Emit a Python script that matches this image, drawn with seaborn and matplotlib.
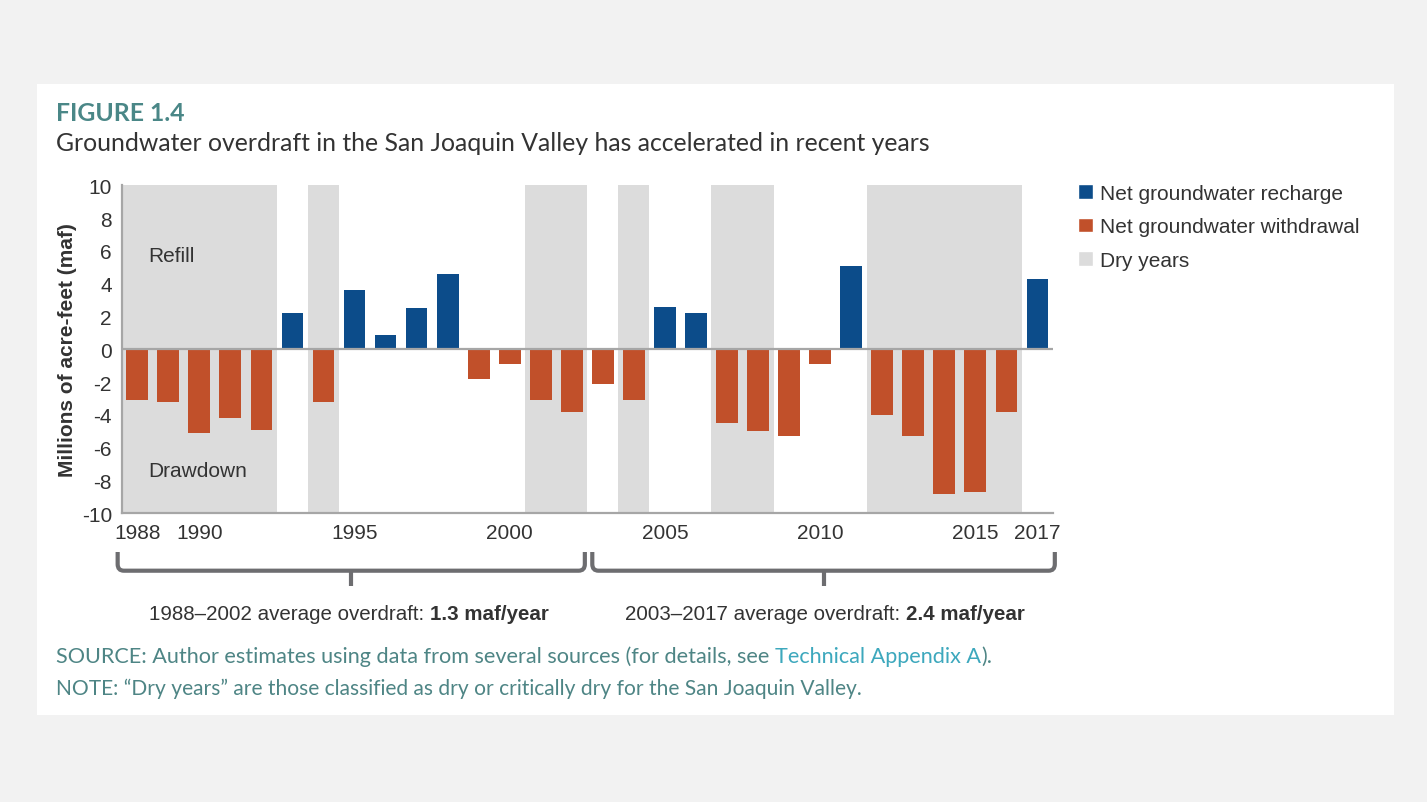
import numpy as np
import pandas as pd
import matplotlib
matplotlib.use("Agg")
import matplotlib.pyplot as plt
import seaborn as sns
from matplotlib.patches import Patch, Rectangle, PathPatch
from matplotlib.path import Path
import matplotlib.transforms as mtransforms

# Datos
years = list(range(1988, 2018))
values = [-3.1, -3.2, -5.1, -4.2, -4.9, 2.2, -3.2, 3.6, 0.9, 2.5,
          4.6, -1.8, -0.9, -3.1, -3.8, -2.1, -3.1, 2.6, 2.2, -4.5,
          -5.0, -5.3, -0.9, 5.1, -4.0, -5.3, -8.8, -8.7, -3.8, 4.3]
dry_years = [1988, 1989, 1990, 1991, 1992, 1994, 2001, 2002, 2004,
             2007, 2008, 2012, 2013, 2014, 2015, 2016]
tick_labels = [1988, 1990, 1995, 2000, 2005, 2010, 2015, 2017]
periods = [(1988, 2002), (2003, 2017)]
period_avg = ["1.3 maf/year", "2.4 maf/year"]
series_names = ["Net groundwater recharge", "Net groundwater withdrawal", "Dry years"]

blue = "#0c4c8a"
orange = "#c1502a"
band = "#dcdcdc"
axis_gray = "#a6a6a6"
txt = "#333333"
teal = "#4e8585"

df = pd.DataFrame({"year": years, "value": values})
df["kind"] = np.where(df["value"] >= 0, series_names[0], series_names[1])

sns.set_style("white")
plt.rcParams["font.family"] = ["Liberation Sans", "DejaVu Sans"]
plt.rcParams["axes.unicode_minus"] = False

fig = plt.figure(figsize=(14.27, 8.03), dpi=100, facecolor="#f2f2f2")
# panel blanco
fig.patches.append(Rectangle((37 / 1427, 1 - 716 / 803), (1394 - 37) / 1427, (716 - 85) / 803,
                             transform=fig.transFigure, facecolor="white", edgecolor="none", zorder=-5))
ax = fig.add_axes([0.08528, 0.35953, 0.6526, 0.40847])
ax.set_facecolor("none")

# bandas de anos secos (agrupar anos consecutivos)
runs = []
for y in dry_years:
    if runs and y == runs[-1][1] + 1:
        runs[-1][1] = y
    else:
        runs.append([y, y])
for a, b in runs:
    ax.axvspan(a - 0.5, b + 0.5, color=band, lw=0, zorder=0)

sns.barplot(data=df, x="year", y="value", hue="kind", native_scale=True, dodge=False,
            palette={series_names[0]: blue, series_names[1]: orange},
            width=0.7, legend=False, ax=ax, zorder=2, saturation=1, linewidth=0)

ax.axhline(0, color=axis_gray, lw=1.6, zorder=3)
ax.set_xlim(1987.5, 2017.5)
ax.set_ylim(-10, 10)
ax.set_yticks(range(-10, 11, 2))
ax.set_xticks(years)
ax.set_xticklabels([str(y) if y in tick_labels else "" for y in years])
ax.tick_params(axis="both", colors=axis_gray, labelcolor=txt, labelsize=15, length=5, width=1.2)
ax.tick_params(axis="x", pad=2)
ax.tick_params(axis="y", pad=2)
for s in ["top", "right"]:
    ax.spines[s].set_visible(False)
for s in ["left", "bottom"]:
    ax.spines[s].set_color(axis_gray)
    ax.spines[s].set_linewidth(1.6)
ax.set_xlabel("")
ax.set_ylabel("Millions of acre-feet (maf)", fontsize=15, fontweight="bold", color=txt)
ax.yaxis.set_label_coords(-0.048, 0.5)

ax.text(1988.35, 5.4, "Refill", fontsize=15, color=txt, va="baseline")
ax.text(1988.35, -7.75, "Drawdown", fontsize=15, color=txt, va="baseline")

# leyenda
handles = [Patch(facecolor=blue), Patch(facecolor=orange), Patch(facecolor=band)]
fig.legend(handles, series_names, loc="upper left", bbox_to_anchor=(1078 / 1427, 1 - 185 / 803),
           frameon=False, fontsize=15, handlelength=0.7, handleheight=0.7, handletextpad=0.35,
           labelspacing=0.69, borderpad=0, borderaxespad=0, labelcolor=txt)

# llaves bajo el eje
trans = mtransforms.blended_transform_factory(ax.transData, ax.transAxes)
y_top, y_mid, y_tip = -0.118, -0.175, -0.221
rx, ry = 0.2, 0.02
brace_pad = [(0.63, 0.42), (0.34, 0.56)]
for (a, b), (pl, pr) in zip(periods, brace_pad):
    x0, x1 = a - pl, b + pr
    xm = (x0 + x1) / 2
    verts = [(x0, y_top), (x0, y_mid + ry), (x0, y_mid), (x0 + rx, y_mid),
             (x1 - rx, y_mid), (x1, y_mid), (x1, y_mid + ry), (x1, y_top)]
    codes = [Path.MOVETO, Path.LINETO, Path.CURVE3, Path.CURVE3,
             Path.LINETO, Path.CURVE3, Path.CURVE3, Path.LINETO]
    ax.add_patch(PathPatch(Path(verts, codes), transform=trans, fill=False,
                           edgecolor="#6d6d70", lw=3, clip_on=False))
    ax.plot([xm, xm], [y_mid, y_tip], transform=trans, color="#6d6d70", lw=3,
            clip_on=False, solid_capstyle="butt")

text_x = [149 / 1427, 625 / 1427]
for i, (a, b) in enumerate(periods):
    t1 = fig.text(text_x[i], 1 - 620 / 803, f"{a}\u2013{b} average overdraft: ",
                  fontsize=14.8, color=txt, va="baseline")
    ax.annotate(period_avg[i], xy=(1, 0), xycoords=t1, va="bottom", ha="left",
                fontsize=14.8, color=txt, fontweight="bold", annotation_clip=False)

# titulos y notas
cal = ["Lato", "DejaVu Sans"]
fig.text(56 / 1427, 1 - 120.7 / 803, "FIGURE 1.4", fontsize=17.8, fontweight="bold",
         color="#4a8787", family=cal, va="baseline")
fig.text(56 / 1427, 1 - 151 / 803, "Groundwater overdraft in the San Joaquin Valley has accelerated in recent years",
         fontsize=17.8, color=txt, family=cal, va="baseline")
s1 = fig.text(56 / 1427, 1 - 663 / 803, "SOURCE: Author estimates using data from several sources (for details, see ",
              fontsize=15.6, color=teal, family=cal, va="baseline")
s2 = ax.annotate("Technical Appendix A", xy=(1, 0), xycoords=s1, va="bottom", fontsize=15.6,
                 color="#3da8bd", family=cal, annotation_clip=False)
ax.annotate(").", xy=(1, 0), xycoords=s2, va="bottom", fontsize=15.6, color=teal, family=cal,
            annotation_clip=False)
fig.text(56 / 1427, 1 - 695 / 803, "NOTE: \u201cDry years\u201d are those classified as dry or critically dry for the San Joaquin Valley.",
         fontsize=15.1, color=teal, family=cal, va="baseline")

fig.savefig("out.png", dpi=100, facecolor=fig.get_facecolor())
